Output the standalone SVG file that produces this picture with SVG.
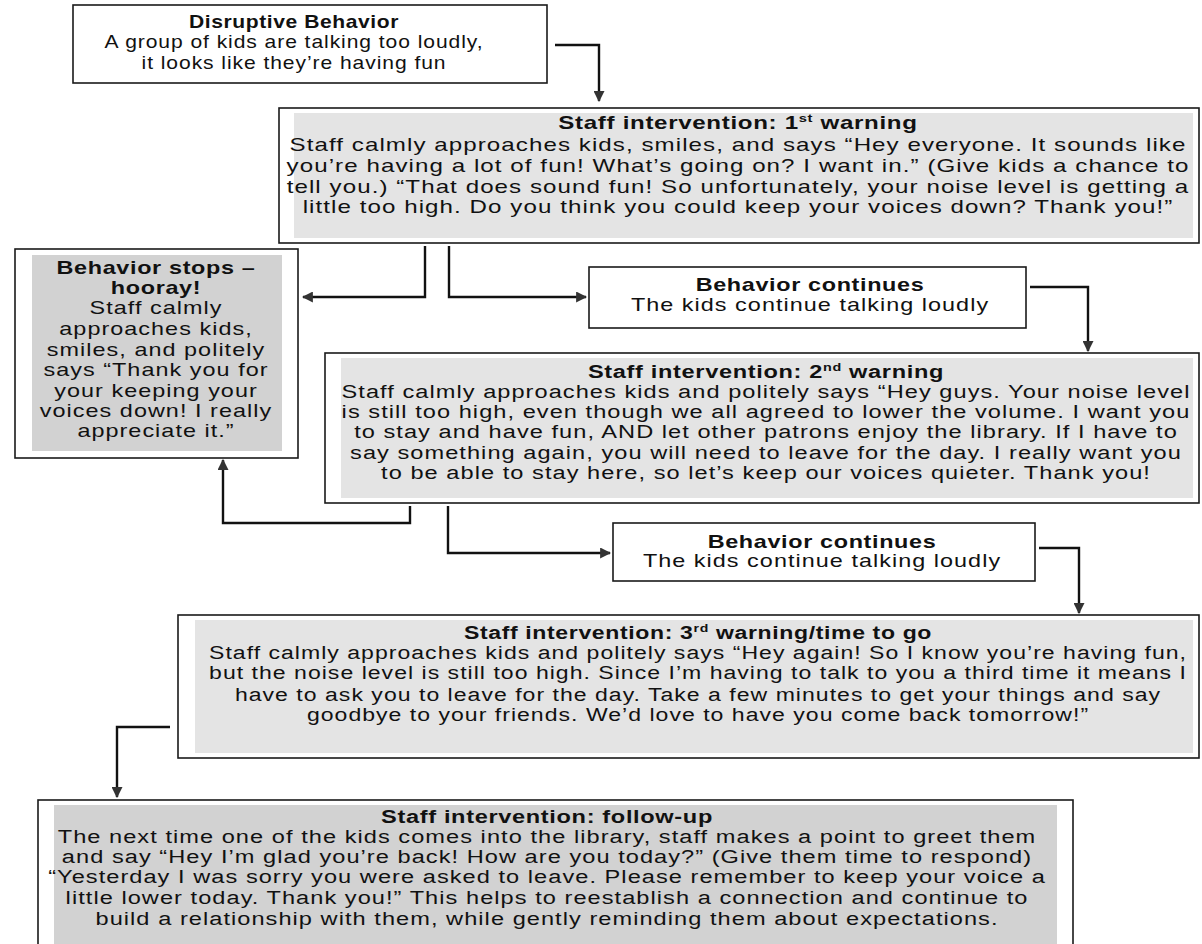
<svg xmlns="http://www.w3.org/2000/svg" width="1202" height="944" viewBox="0 0 1202 944">
<style>
.box{fill:#fff;stroke:#1a1a1a;stroke-width:1.6}
.shade{fill:#e4e4e4}
.shade2{fill:#d2d2d2}
.t{font-family:"Liberation Sans",Arial,sans-serif;font-size:18px;letter-spacing:0.8px;fill:#111;text-anchor:middle}
.b{font-weight:bold;letter-spacing:0.5px}
.sup{font-size:11px}
.conn{fill:none;stroke:#111;stroke-width:2.4}
</style>
<defs>
<marker id="ah" viewBox="0 0 10 10" refX="9" refY="5" markerWidth="11" markerHeight="11" orient="auto" markerUnits="userSpaceOnUse">
<path d="M0,0 L10,5 L0,10 z" fill="#333"/>
</marker>
</defs>
<rect width="1202" height="944" fill="#fff"/>

<g id="connectors">
<path class="conn" d="M555 45 H599 V101" marker-end="url(#ah)"/>
<path class="conn" d="M425 246 V297 H303" marker-end="url(#ah)"/>
<path class="conn" d="M449 246 V297 H586" marker-end="url(#ah)"/>
<path class="conn" d="M1030 287 H1088 V351" marker-end="url(#ah)"/>
<path class="conn" d="M410 506 V523 H223 V460" marker-end="url(#ah)"/>
<path class="conn" d="M448 506 V553 H610" marker-end="url(#ah)"/>
<path class="conn" d="M1039 548 H1079 V613" marker-end="url(#ah)"/>
<path class="conn" d="M170 727 H117 V797" marker-end="url(#ah)"/>
</g>

<g id="disruptive">
<rect class="box" x="73" y="5" width="474" height="78"/>
<g transform="translate(294 0) scale(1.17 1)">
<text class="t b" x="0" y="28">Disruptive Behavior</text>
<text class="t" x="0" y="48">A group of kids are talking too loudly,</text>
<text class="t" x="0" y="69">it looks like they’re having fun</text>
</g>
</g>

<g id="warning1">
<rect class="box" x="279" y="108" width="920" height="135"/>
<rect class="shade" x="294" y="113" width="899" height="125"/>
<g transform="translate(738 0) scale(1.34 1)">
<text class="t b" x="0" y="129">Staff intervention: 1<tspan class="sup" dy="-7">st</tspan><tspan dy="7"> warning</tspan></text>
<text class="t" x="0" y="151">Staff calmly approaches kids, smiles, and says “Hey everyone. It sounds like</text>
<text class="t" x="0" y="172">you’re having a lot of fun! What’s going on? I want in.” (Give kids a chance to</text>
<text class="t" x="0" y="193">tell you.) “That does sound fun! So unfortunately, your noise level is getting a</text>
<text class="t" x="0" y="213">little too high. Do you think you could keep your voices down? Thank you!”</text>
</g>
</g>

<g id="stops">
<rect class="box" x="15" y="249" width="283" height="209"/>
<rect class="shade2" x="32" y="255" width="250" height="196"/>
<g transform="translate(156 0) scale(1.3 1)">
<text class="t b" x="0" y="274">Behavior stops –</text>
<text class="t b" x="0" y="294">hooray!</text>
<text class="t" x="0" y="314">Staff calmly</text>
<text class="t" x="0" y="335">approaches kids,</text>
<text class="t" x="0" y="356">smiles, and politely</text>
<text class="t" x="0" y="376">says “Thank you for</text>
<text class="t" x="0" y="397">your keeping your</text>
<text class="t" x="0" y="417">voices down! I really</text>
<text class="t" x="0" y="437">appreciate it.”</text>
</g>
</g>

<g id="continues1">
<rect class="box" x="589" y="267" width="437" height="61"/>
<g transform="translate(810 0) scale(1.3 1)">
<text class="t b" x="0" y="291">Behavior continues</text>
<text class="t" x="0" y="311">The kids continue talking loudly</text>
</g>
</g>

<g id="warning2">
<rect class="box" x="325" y="353" width="874" height="150"/>
<rect class="shade" x="341" y="358" width="852" height="140"/>
<g transform="translate(766 0) scale(1.31 1)">
<text class="t b" x="0" y="378">Staff intervention: 2<tspan class="sup" dy="-7">nd</tspan><tspan dy="7"> warning</tspan></text>
<text class="t" x="0" y="398">Staff calmly approaches kids and politely says “Hey guys. Your noise level</text>
<text class="t" x="0" y="418">is still too high, even though we all agreed to lower the volume. I want you</text>
<text class="t" x="0" y="438">to stay and have fun, AND let other patrons enjoy the library. If I have to</text>
<text class="t" x="0" y="459">say something again, you will need to leave for the day. I really want you</text>
<text class="t" x="0" y="479">to be able to stay here, so let’s keep our voices quieter. Thank you!</text>
</g>
</g>

<g id="continues2">
<rect class="box" x="613" y="523" width="422" height="58"/>
<g transform="translate(822 0) scale(1.3 1)">
<text class="t b" x="0" y="548">Behavior continues</text>
<text class="t" x="0" y="567">The kids continue talking loudly</text>
</g>
</g>

<g id="warning3">
<rect class="box" x="178" y="615" width="1021" height="143"/>
<rect class="shade" x="195" y="620" width="998" height="133"/>
<g transform="translate(698 0) scale(1.28 1)">
<text class="t b" x="0" y="639">Staff intervention: 3<tspan class="sup" dy="-7">rd</tspan><tspan dy="7"> warning/time to go</tspan></text>
<text class="t" x="0" y="659">Staff calmly approaches kids and politely says “Hey again! So I know you’re having fun,</text>
<text class="t" x="0" y="679">but the noise level is still too high. Since I’m having to talk to you a third time it means I</text>
<text class="t" x="0" y="701">have to ask you to leave for the day. Take a few minutes to get your things and say</text>
<text class="t" x="0" y="721">goodbye to your friends. We’d love to have you come back tomorrow!”</text>
</g>
</g>

<g id="followup">
<rect class="box" x="38" y="800" width="1035" height="160"/>
<rect class="shade2" x="54" y="805" width="1003" height="150"/>
<g transform="translate(547 0) scale(1.31 1)">
<text class="t b" x="0" y="823">Staff intervention: follow-up</text>
<text class="t" x="0" y="843">The next time one of the kids comes into the library, staff makes a point to greet them</text>
<text class="t" x="0" y="863">and say “Hey I’m glad you’re back! How are you today?” (Give them time to respond)</text>
<text class="t" x="0" y="883">“Yesterday I was sorry you were asked to leave. Please remember to keep your voice a</text>
<text class="t" x="0" y="904">little lower today. Thank you!” This helps to reestablish a connection and continue to</text>
<text class="t" x="0" y="925">build a relationship with them, while gently reminding them about expectations.</text>
</g>
</g>
</svg>
